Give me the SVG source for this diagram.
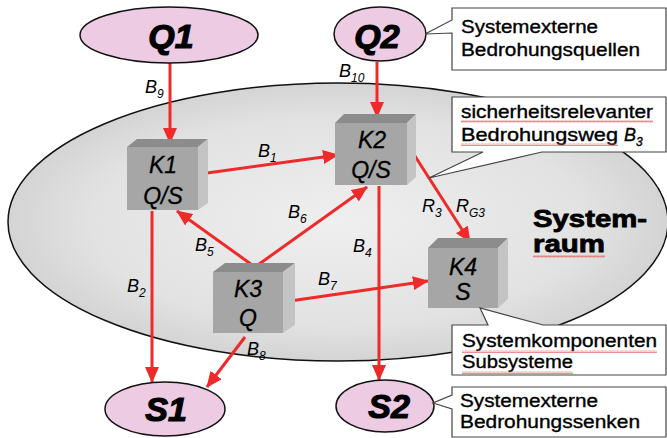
<svg xmlns="http://www.w3.org/2000/svg" width="667" height="438" viewBox="0 0 667 438">
<defs>
<radialGradient id="sysfill" cx="0.5" cy="0.5" r="0.5">
<stop offset="0" stop-color="#efefef"/>
<stop offset="0.75" stop-color="#e2e2e2"/>
<stop offset="1" stop-color="#d4d4d4"/>
</radialGradient>
<marker id="ah" markerWidth="16" markerHeight="14" refX="15" refY="7" orient="auto" markerUnits="userSpaceOnUse">
<path d="M0,0 L16,7 L0,14 Z" fill="#ee2a2a"/>
</marker>
<pattern id="sq" width="4" height="3" patternUnits="userSpaceOnUse">
<path d="M0,2.5 L1,0.5 L2,2.5 L3,0.5 L4,2.5" fill="none" stroke="#e36060" stroke-width="0.7"/>
</pattern>
</defs>
<style>
.ext{fill:#eccbe3;stroke:#111;stroke-width:1.5}
.extt{font-family:"Liberation Sans",Arial,sans-serif;font-weight:bold;font-style:italic;font-size:34px;fill:#000;stroke:#000;stroke-width:1.2;text-anchor:middle}
.front{fill:#a6a6a6}
.top{fill:#8c8c8c}
.side{fill:#c4c4c4}
.kt{font-family:"Liberation Sans",Arial,sans-serif;font-style:italic;font-size:23px;fill:#000;stroke:#000;stroke-width:0.3;text-anchor:middle}
.arr{stroke:#ee2a2a;stroke-width:3;fill:none;marker-end:url(#ah)}
.lb{font-family:"Liberation Sans",Arial,sans-serif;font-style:italic;font-size:18px;fill:#000}
.sub{font-size:12px}
.co{fill:#fff;stroke:#444;stroke-width:1.2}
.cot{font-family:"Liberation Sans",Arial,sans-serif;font-size:18px;fill:#000;stroke:#000;stroke-width:0.35}
.sys{font-family:"Liberation Sans",Arial,sans-serif;font-weight:bold;font-size:24px;fill:#000;stroke:#000;stroke-width:0.8}
</style>

<g id="systemraum">
<ellipse cx="338" cy="222" rx="330" ry="139" fill="url(#sysfill)" stroke="#111" stroke-width="1.5"/>
<text class="sys" x="533" y="227" textLength="114" lengthAdjust="spacingAndGlyphs">System-</text>
<text class="sys" x="533" y="252" textLength="72" lengthAdjust="spacingAndGlyphs">raum</text>
<rect x="533" y="255" width="72" height="3" fill="url(#sq)"/>
</g>

<g id="connectors">
<line class="arr" x1="170" y1="63" x2="170" y2="143"/>
<line class="arr" x1="377" y1="62" x2="377" y2="117"/>
<line class="arr" x1="207" y1="173" x2="338" y2="155"/>
<line class="arr" x1="152" y1="211" x2="152" y2="382"/>
<line class="arr" x1="379" y1="186" x2="379" y2="380"/>
<line class="arr" x1="255" y1="267" x2="177" y2="211"/>
<line class="arr" x1="255" y1="267" x2="367" y2="187"/>
<line class="arr" x1="290" y1="301" x2="428" y2="281"/>
<line class="arr" x1="245" y1="337" x2="207" y2="387"/>
<line class="arr" x1="413" y1="153" x2="470" y2="242"/>
</g>

<g id="labels">
<text class="lb" x="145" y="93">B<tspan class="sub" dy="5">9</tspan></text>
<text class="lb" x="339" y="77">B<tspan class="sub" dy="5">10</tspan></text>
<text class="lb" x="258" y="157">B<tspan class="sub" dy="5">1</tspan></text>
<text class="lb" x="288" y="218">B<tspan class="sub" dy="5">6</tspan></text>
<text class="lb" x="195" y="251">B<tspan class="sub" dy="5">5</tspan></text>
<text class="lb" x="353" y="252">B<tspan class="sub" dy="5">4</tspan></text>
<text class="lb" x="127" y="292">B<tspan class="sub" dy="5">2</tspan></text>
<text class="lb" x="318" y="285">B<tspan class="sub" dy="5">7</tspan></text>
<text class="lb" x="247" y="355">B<tspan class="sub" dy="5">8</tspan></text>
<text class="lb" x="422" y="212">R<tspan class="sub" dy="5">3</tspan></text>
<text class="lb" x="456" y="212">R<tspan class="sub" dy="5">G3</tspan></text>
</g>

<g id="Q1">
<ellipse class="ext" cx="169" cy="35" rx="89" ry="28"/>
<text class="extt" x="171" y="48">Q1</text>
</g>
<g id="Q2">
<ellipse class="ext" cx="380" cy="34" rx="46" ry="27"/>
<text class="extt" x="377" y="48">Q2</text>
</g>
<g id="S1">
<ellipse class="ext" cx="165" cy="409" rx="60" ry="27"/>
<text class="extt" x="166" y="421">S1</text>
</g>
<g id="S2">
<ellipse class="ext" cx="385" cy="406" rx="49" ry="26"/>
<text class="extt" x="389" y="418">S2</text>
</g>

<g id="K1">
<path class="top" d="M127,147 L137,139 L208,139 L198,147 Z"/>
<path class="side" d="M198,147 L208,139 L208,203 L198,210 Z"/>
<rect class="front" x="127" y="147" width="71" height="63"/>
<text class="kt" x="163" y="173">K1</text>
<text class="kt" x="163" y="204">Q/S</text>
</g>
<g id="K2">
<path class="top" d="M335,123 L344,114 L416,114 L407,123 Z"/>
<path class="side" d="M407,123 L416,114 L416,177 L407,185 Z"/>
<rect class="front" x="335" y="123" width="72" height="62"/>
<text class="kt" x="372" y="148">K2</text>
<text class="kt" x="371" y="178">Q/S</text>
</g>
<g id="K3">
<path class="top" d="M213,272 L225,263 L295,263 L283,272 Z"/>
<path class="side" d="M283,272 L295,263 L295,325 L283,333 Z"/>
<rect class="front" x="213" y="272" width="70" height="61"/>
<text class="kt" x="248" y="297">K3</text>
<text class="kt" x="248" y="326">Q</text>
</g>
<g id="K4">
<path class="top" d="M428,248 L438,238 L508,238 L498,248 Z"/>
<path class="side" d="M498,248 L508,238 L508,299 L498,308 Z"/>
<rect class="front" x="428" y="248" width="70" height="60"/>
<text class="kt" x="463" y="275">K4</text>
<text class="kt" x="463" y="300">S</text>
</g>

<g id="callout-quellen">
<path class="co" d="M452,8 H666 V70 H452 V33 L425,34 L452,20 Z"/>
<text class="cot" x="461" y="33" textLength="137" lengthAdjust="spacingAndGlyphs">Systemexterne</text>
<text class="cot" x="461" y="56" textLength="179" lengthAdjust="spacingAndGlyphs">Bedrohungsquellen</text>
</g>
<g id="callout-weg">
<path class="co" d="M452,97 H666 V152 H542 L429,178 L483,152 H452 Z"/>
<text class="cot" x="461" y="118" textLength="192" lengthAdjust="spacingAndGlyphs">sicherheitsrelevanter</text>
<rect x="461" y="120" width="192" height="3" fill="url(#sq)"/>
<text class="cot" x="461" y="141" textLength="157" lengthAdjust="spacingAndGlyphs">Bedrohungsweg</text>
<rect x="461" y="143" width="157" height="3" fill="url(#sq)"/>
<text class="cot" x="624" y="141" font-style="italic">B<tspan font-size="12" dy="5">3</tspan></text>
</g>
<g id="callout-komponenten">
<path class="co" d="M452,325 H488 L480,308 L543,325 H666 V375 H452 Z"/>
<text class="cot" x="462" y="347" textLength="195" lengthAdjust="spacingAndGlyphs">Systemkomponenten</text>
<rect x="462" y="350" width="195" height="3" fill="url(#sq)"/>
<text class="cot" x="462" y="368" textLength="111" lengthAdjust="spacingAndGlyphs">Subsysteme</text>
<rect x="462" y="371" width="111" height="3" fill="url(#sq)"/>
</g>
<g id="callout-senken">
<path class="co" d="M452,387 H666 V437 H452 V409 L433,403 L452,395 Z"/>
<text class="cot" x="460" y="407" textLength="138" lengthAdjust="spacingAndGlyphs">Systemexterne</text>
<text class="cot" x="460" y="428" textLength="180" lengthAdjust="spacingAndGlyphs">Bedrohungssenken</text>
</g>
</svg>
